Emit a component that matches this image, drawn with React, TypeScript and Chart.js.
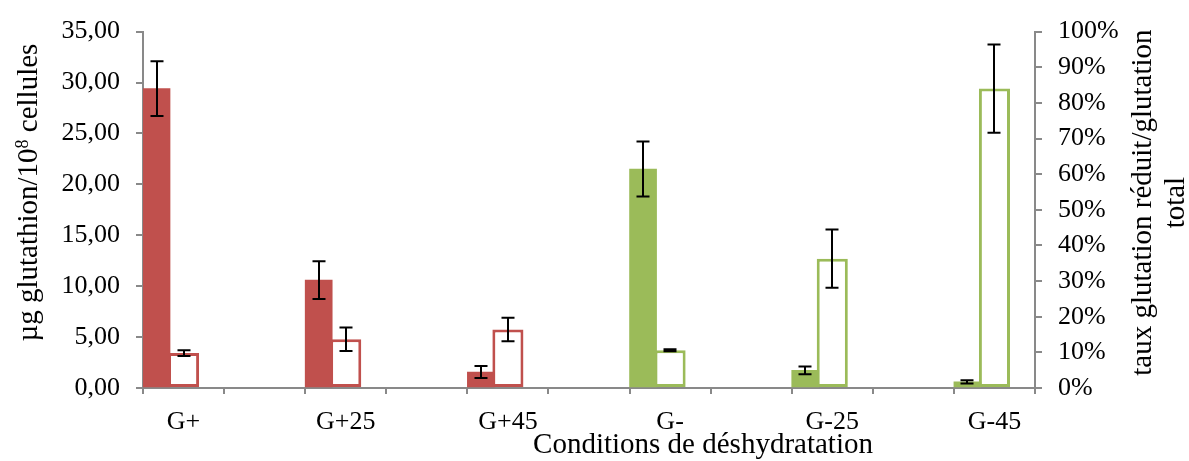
import React, { useEffect, useRef } from 'react';
import { Chart, registerables } from 'chart.js';

Chart.register(...registerables);

const categories = ['G+', '', 'G+25', '', 'G+45', '', 'G-', '', 'G-25', '', 'G-45'];
const glutathion = [29.4, null, 10.6, null, 1.57, null, 21.5, null, 1.73, null, 0.6];
const glutathionErr = [2.7, null, 1.85, null, 0.6, null, 2.7, null, 0.37, null, 0.15];
const ratio = [0.098, null, 0.137, null, 0.164, null, 0.106, null, 0.363, null, 0.84];
const ratioErr = [0.008, null, 0.033, null, 0.033, null, 0.003, null, 0.082, null, 0.124];
const barColors = ['#C0504D', '#C0504D', '#C0504D', '#C0504D', '#C0504D', '#C0504D', '#9BBB59', '#9BBB59', '#9BBB59', '#9BBB59', '#9BBB59'];
const emptySeries = [null, null, null, null, null, null, null, null, null, null, null];

const xTitle = 'Conditions de déshydratation';
const yTitleParts = ['µg glutathion/10', '8', ' cellules'];
const y1TitleLines = ['taux glutation réduit/glutation', 'total'];

const FONT = '"Liberation Serif", "Times New Roman", serif';
const AXIS_COLOR = '#898989';

const errorBarPlugin = {
  id: 'errorBars',
  afterDatasetsDraw(chart: any) {
    const ctx = chart.ctx;
    ctx.save();
    ctx.strokeStyle = '#000';
    ctx.lineWidth = 2;
    chart.data.datasets.forEach((ds: any, i: number) => {
      if (!ds.errors) return;
      const meta = chart.getDatasetMeta(i);
      const scale = chart.scales[meta.yAxisID];
      meta.data.forEach((el: any, j: number) => {
        const v = ds.data[j];
        const e = ds.errors[j];
        if (v == null || e == null) return;
        const x = Math.round(el.x);
        const yt = scale.getPixelForValue(v + e);
        const yb = scale.getPixelForValue(v - e);
        ctx.beginPath();
        ctx.moveTo(x, yt);
        ctx.lineTo(x, yb);
        ctx.moveTo(x - 6.5, yt);
        ctx.lineTo(x + 6.5, yt);
        ctx.moveTo(x - 6.5, yb);
        ctx.lineTo(x + 6.5, yb);
        ctx.stroke();
      });
    });
    ctx.restore();
  },
};

const titlePlugin = {
  id: 'axisTitles',
  afterDraw(chart: any) {
    const ctx = chart.ctx;
    const { left, right, top, bottom } = chart.chartArea;
    ctx.save();
    ctx.fillStyle = '#000';
    ctx.textBaseline = 'alphabetic';

    // X title
    ctx.font = `29px ${FONT}`;
    ctx.textAlign = 'center';
    ctx.fillText(xTitle, left + 560, bottom + 65);

    // Left title with superscript
    ctx.save();
    ctx.translate(left - 106, top + 161);
    ctx.rotate(-Math.PI / 2);
    ctx.textAlign = 'left';
    const big = `29px ${FONT}`;
    const small = `18px ${FONT}`;
    ctx.font = big;
    const w0 = ctx.measureText(yTitleParts[0]).width;
    const w2 = ctx.measureText(yTitleParts[2]).width;
    ctx.font = small;
    const w1 = ctx.measureText(yTitleParts[1]).width;
    let x = -(w0 + w1 + w2) / 2;
    ctx.font = big;
    ctx.fillText(yTitleParts[0], x, 0);
    x += w0;
    ctx.font = small;
    ctx.fillText(yTitleParts[1], x, -9);
    x += w1;
    ctx.font = big;
    ctx.fillText(yTitleParts[2], x, 0);
    ctx.restore();

    // Right title, two lines
    ctx.font = `29px ${FONT}`;
    ctx.textAlign = 'center';
    y1TitleLines.forEach((line, i) => {
      ctx.save();
      ctx.translate(right + 116 + i * 33, top + 171);
      ctx.rotate(-Math.PI / 2);
      ctx.fillText(line, 0, 0);
      ctx.restore();
    });
    ctx.restore();
  },
};

export default function App() {
  const ref = useRef<HTMLCanvasElement | null>(null);

  useEffect(() => {
    if (!ref.current) return;
    const tickFont = { family: FONT, size: 26 };
    const chart = new Chart(ref.current, {
      type: 'bar',
      data: {
        labels: categories,
        datasets: [
          {
            label: 'µg glutathion',
            data: glutathion,
            errors: glutathionErr,
            yAxisID: 'y',
            backgroundColor: barColors,
            borderWidth: 0,
          } as any,
          {
            label: 'taux',
            data: ratio,
            errors: ratioErr,
            yAxisID: 'y1',
            backgroundColor: '#FFFFFF',
            borderColor: barColors,
            borderWidth: 3,
            borderSkipped: false,
            barPercentage: 1.15,
          } as any,
          {
            label: 'vide',
            data: emptySeries,
            yAxisID: 'y',
          },
        ],
      },
      options: {
        animation: false,
        responsive: true,
        maintainAspectRatio: false,
        layout: { padding: { top: 24, left: 0, right: 0, bottom: 0 } },
        datasets: { bar: { categoryPercentage: 1, barPercentage: 1 } },
        plugins: {
          legend: { display: false },
          tooltip: { enabled: false },
        },
        scales: {
          x: {
            type: 'category',
            offset: true,
            grid: {
              display: true,
              drawOnChartArea: false,
              offset: true,
              color: AXIS_COLOR,
              lineWidth: 2,
              tickLength: 6,
            },
            border: { display: true, color: AXIS_COLOR, width: 2 },
            ticks: { color: '#000', font: tickFont, padding: 13, maxRotation: 0, autoSkip: false },
            afterFit: (s: any) => { s.height = 73; },
          },
          y: {
            position: 'left',
            min: 0,
            max: 35,
            grid: { drawOnChartArea: false, color: AXIS_COLOR, lineWidth: 2, tickLength: 7 },
            border: { display: true, color: AXIS_COLOR, width: 2 },
            ticks: {
              stepSize: 5,
              color: '#000',
              font: tickFont,
              padding: 16,
              callback: (v: any) => Number(v).toFixed(2).replace('.', ','),
            },
            afterFit: (s: any) => { s.width = 143; },
          },
          y1: {
            position: 'right',
            min: 0,
            max: 1,
            grid: { drawOnChartArea: false, color: AXIS_COLOR, lineWidth: 2, tickLength: 7 },
            border: { display: true, color: AXIS_COLOR, width: 2 },
            ticks: {
              stepSize: 0.1,
              color: '#000',
              font: tickFont,
              padding: 16,
              callback: (v: any) => Math.round(Number(v) * 100) + '%',
            },
            afterFit: (s: any) => { s.width = 154; },
          },
        },
      } as any,
      plugins: [errorBarPlugin, titlePlugin],
    });
    return () => chart.destroy();
  }, []);

  return (
    <div style={{ position: 'fixed', left: 0, top: 0, width: 1189, height: 461, background: '#fff' }}>
      <canvas ref={ref} />
    </div>
  );
}
